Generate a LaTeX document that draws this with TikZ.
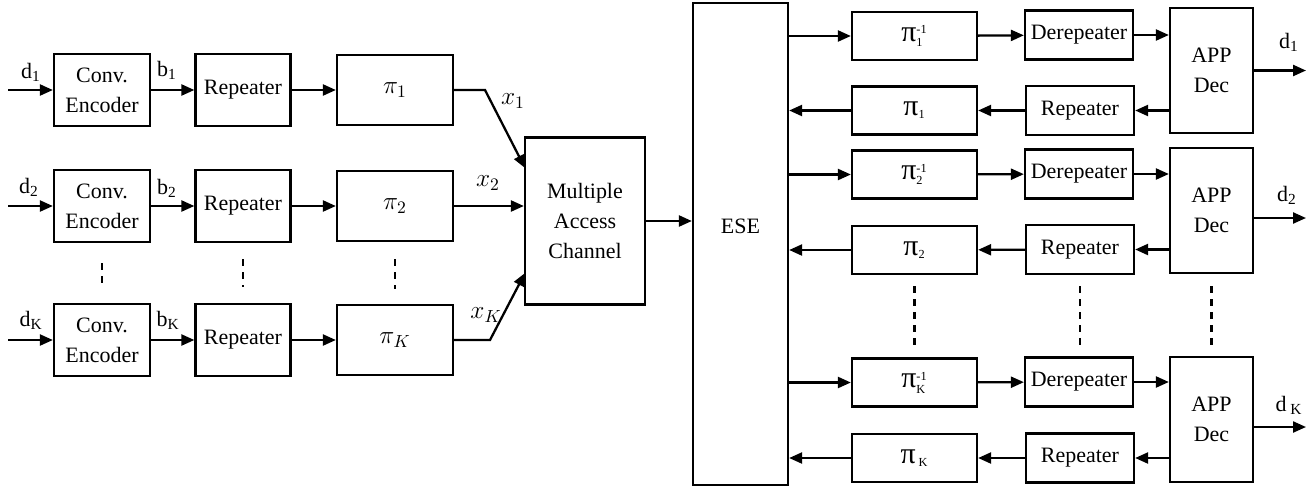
\documentclass[tikz,border=0pt]{standalone}
\usepackage{fontspec}
\setmainfont{Liberation Serif}
\usetikzlibrary{arrows.meta}

\newcommand{\bigpi}{{\fontsize{17}{17}\selectfont π}}

\begin{document}
\begin{tikzpicture}[x=0.02cm, y=-0.02cm, line width=1.3pt,
        >={Triangle[length=2.6mm,width=2.2mm]},
        every node/.style={font=\fontsize{12.5}{17}\selectfont},
        blk/.style={draw, align=center, inner sep=1pt},
        enc/.style={blk, minimum width=1.92cm, minimum height=1.44cm},
        rep/.style={blk, minimum width=1.9cm, minimum height=1.44cm},
        perm/.style={blk, minimum width=2.32cm, minimum height=1.4cm, font=\Large},
        iperm/.style={blk, minimum width=2.5cm, minimum height=0.96cm},
        drep/.style={blk, minimum width=2.16cm, minimum height=0.98cm},
        dec/.style={blk, minimum width=1.66cm, minimum height=2.5cm},
        dots/.style={dash pattern=on 0.14cm off 0.12cm, line width=1.5pt}]
    \useasboundingbox (0,0) rectangle (1314,487);

    % transmitters
    \node[enc] (enc1) at (102,90) {Conv.\\Encoder};
    \node[enc] (enc2) at (102,206) {Conv.\\Encoder};
    \node[enc] (encK) at (102,340) {Conv.\\Encoder};

    \node[rep] (rep1) at (243,90) {Repeater};
    \node[rep] (rep2) at (243,206) {Repeater};
    \node[rep] (repK) at (243,340) {Repeater};

    \node[perm] (pi1) at (395,90) {$\pi_1$};
    \node[perm] (pi2) at (395,206) {$\pi_2$};
    \node[perm] (piK) at (395,340) {$\pi_K$};

    \coordinate (in1) at (8,90);
    \coordinate (in2) at (8,206);
    \coordinate (inK) at (8,340);
    \node (d1) at (31,72) {d\textsubscript{1}};
    \node (d2) at (29,187) {d\textsubscript{2}};
    \node (dK) at (31,320) {d\textsubscript{K}};
    \node (b1) at (167,70) {b\textsubscript{1}};
    \node (b2) at (167,188) {b\textsubscript{2}};
    \node (bK) at (168,320) {b\textsubscript{K}};

    \draw[->] (in1) -- (enc1);
    \draw[->] (in2) -- (enc2);
    \draw[->] (inK) -- (encK);
    \draw[->] (enc1) -- (rep1);
    \draw[->] (enc2) -- (rep2);
    \draw[->] (encK) -- (repK);
    \draw[->] (rep1) -- (pi1);
    \draw[->] (rep2) -- (pi2);
    \draw[->] (repK) -- (piK);

    \draw[dots, shorten <=0.4cm, shorten >=0.3cm] (enc2.south) -- (encK.north);
    \draw[dots, shorten <=0.32cm, shorten >=0.32cm] (rep2.south) -- (repK.north);
    \draw[dots, shorten <=0.34cm, shorten >=0.3cm] (pi2.south) -- (piK.north);

    % channel
    \node[blk, minimum width=2.4cm, minimum height=3.34cm] (mac) at (585,221) {Multiple\\Access\\Channel};
    \coordinate (k1) at (485,90);
    \coordinate (m1) at (525,168);
    \coordinate (kK) at (490,340);
    \coordinate (mK) at (525,273);
    \draw[->] (pi1) -- (k1) -- (m1);
    \draw[->] (pi2) -- (mac.west |- pi2);
    \draw[->] (piK) -- (kK) -- (mK);
    \node[font=\Large] (x1) at (513,101) {$x_1$};
    \node[font=\Large] (x2) at (488,183) {$x_2$};
    \node[font=\Large] (xK) at (486,315) {$x_K$};

    % receiver
    \node[blk, minimum width=1.9cm, minimum height=9.64cm] (ese) at (740.5,244) {};
    \node (eseT) at (740.5,226) {ESE};
    \draw[->] (mac) -- (ese.west |- mac);

    \node[iperm] (ip1) at (914.5,36) {\bigpi$^{\mbox{\scriptsize -1}}_{\mbox{\scriptsize 1}}$};
    \node[iperm] (pb1) at (914.5,110.5) {\bigpi$_{\mbox{\scriptsize 1}}$};
    \node[iperm] (ip2) at (914.5,174.5) {\bigpi$^{\mbox{\scriptsize -1}}_{\mbox{\scriptsize 2}}$};
    \node[iperm] (pb2) at (914.5,250) {\bigpi$_{\mbox{\scriptsize 2}}$};
    \node[iperm] (ipK) at (914.5,382.5) {\bigpi$^{\mbox{\scriptsize -1}}_{\mbox{\scriptsize K}}$};
    \node[iperm] (pbK) at (914.5,458) {\bigpi$_{\,\mbox{\scriptsize K}}$};

    \node[drep] (dr1) at (1079,35) {Derepeater};
    \node[drep] (rp1) at (1080,110.5) {Repeater};
    \node[drep] (dr2) at (1079,174) {Derepeater};
    \node[drep] (rp2) at (1080,249.5) {Repeater};
    \node[drep] (drK) at (1079,382) {Derepeater};
    \node[drep] (rpK) at (1080,458) {Repeater};

    \node[dec] (dec1) at (1211.5,70.5) {APP\\Dec};
    \node[dec] (dec2) at (1211.5,210.5) {APP\\Dec};
    \node[dec] (decK) at (1211.5,419.5) {APP\\Dec};

    \draw[->] (ese.east |- ip1) -- (ip1);
    \draw[->] (ese.east |- ip2) -- (ip2);
    \draw[->] (ese.east |- ipK) -- (ipK);
    \draw[->] (pb1) -- (ese.east |- pb1);
    \draw[->] (pb2) -- (ese.east |- pb2);
    \draw[->] (pbK) -- (ese.east |- pbK);

    \draw[->] (ip1) -- (dr1);
    \draw[->] (ip2) -- (dr2);
    \draw[->] (ipK) -- (drK);
    \draw[->] (rp1) -- (pb1);
    \draw[->] (rp2) -- (pb2);
    \draw[->] (rpK) -- (pbK);

    \draw[->] (dr1) -- (dec1.west |- dr1);
    \draw[->] (dr2) -- (dec2.west |- dr2);
    \draw[->] (drK) -- (decK.west |- drK);
    \draw[->] (dec1.west |- rp1) -- (rp1);
    \draw[->] (dec2.west |- rp2) -- (rp2);
    \draw[->] (decK.west |- rpK) -- (rpK);

    \coordinate (out1) at (1306,70.5);
    \coordinate (out2) at (1306,218);
    \coordinate (outK) at (1306,427);
    \draw[->] (dec1.east |- out1) -- (out1);
    \draw[->] (dec2.east |- out2) -- (out2);
    \draw[->] (decK.east |- outK) -- (outK);
    \node (o1) at (1289,42) {d\textsubscript{1}};
    \node (o2) at (1287,195) {d\textsubscript{2}};
    \node (oK) at (1289,405) {d\,\textsubscript{K}};

    \draw[dots, shorten <=0.22cm, shorten >=0.23cm] (pb2.south) -- (ipK.north);
    \draw[dots, shorten <=0.22cm, shorten >=0.2cm] (rp2.south) -- (rp2.south |- drK.north);
    \draw[dots, shorten <=0.24cm, shorten >=0.2cm] (dec2.south) -- (decK.north);
\end{tikzpicture}
\end{document}
